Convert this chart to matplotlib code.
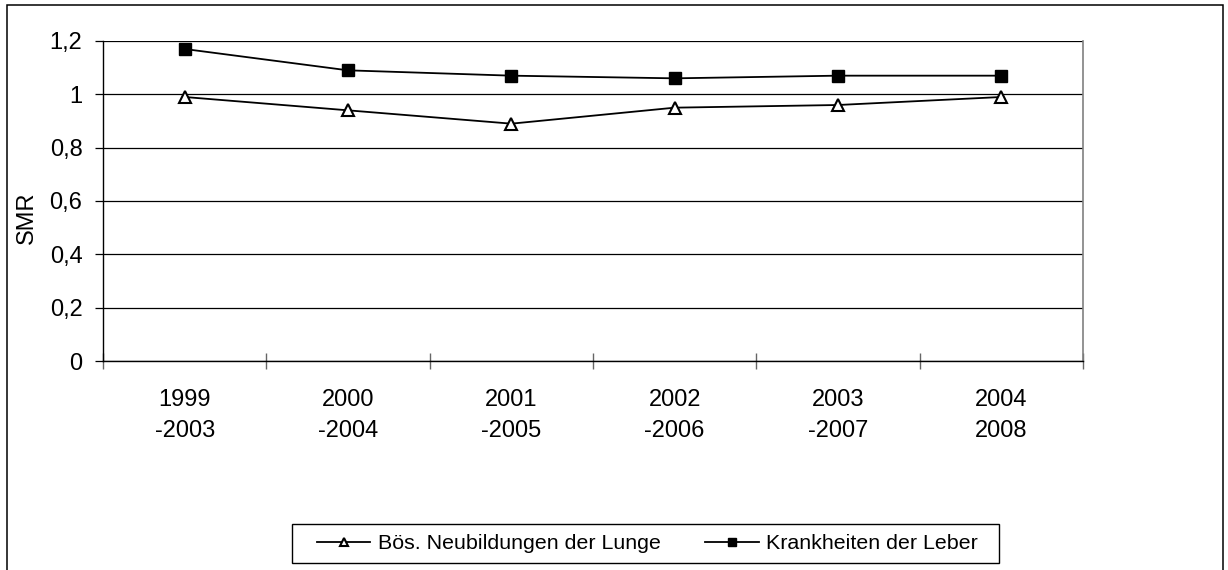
import matplotlib
matplotlib.use("Agg")
import matplotlib.pyplot as plt
from matplotlib.patches import Rectangle
import numpy as np

plt.rcParams['font.family'] = ['Liberation Sans', 'DejaVu Sans']

periods = ["1999\n-2003", "2000\n-2004", "2001\n-2005", "2002\n-2006", "2003\n-2007", "2004\n2008"]
lunge = [0.99, 0.94, 0.89, 0.95, 0.96, 0.99]
leber = [1.17, 1.09, 1.07, 1.06, 1.07, 1.07]
series_names = ["Bös. Neubildungen der Lunge", "Krankheiten der Leber"]
yticks = [0, 0.2, 0.4, 0.6, 0.8, 1.0, 1.2]
ytick_labels = ["0", "0,2", "0,4", "0,6", "0,8", "1", "1,2"]

W, H = 1228, 570
fig = plt.figure(figsize=(W / 100, H / 100), dpi=100)
fig.patch.set_facecolor('white')

# outer chart border (bottom edge lies outside the image)
fig.patches.append(Rectangle((7 / W, -0.05), (1223 - 7) / W, (H - 5) / H + 0.05,
                             transform=fig.transFigure, fill=False,
                             edgecolor='black', linewidth=1.1))

L, R, T, B = 103, 1083, 41, 361
ax = fig.add_axes([L / W, (H - B) / H, (R - L) / W, (B - T) / H])

x = np.arange(len(periods))
l1, = ax.plot(x, lunge, color='black', lw=1.3, marker='^', markersize=8,
              markerfacecolor='white', markeredgecolor='black', markeredgewidth=1.5,
              label=series_names[0])
l2, = ax.plot(x, leber, color='black', lw=1.3, marker='s', markersize=8,
              markerfacecolor='black', markeredgecolor='black',
              label=series_names[1])

ax.set_xlim(-0.5, len(periods) - 0.5)
ax.set_ylim(0, 1.2)
ax.set_yticks(yticks)
ax.set_yticklabels(ytick_labels, fontsize=17)
ax.yaxis.grid(True, color='black', lw=0.9)
ax.set_axisbelow(True)

ax.set_xticks(x)
ax.set_xticklabels(periods, fontsize=17, linespacing=1.55)
ax.set_xticks(np.arange(-0.5, len(periods), 1.0), minor=True)
ax.tick_params(axis='x', which='major', length=0, pad=20)
ax.tick_params(axis='x', which='minor', length=11, direction='inout', width=1.0, color='#666666')
ax.tick_params(axis='y', which='major', length=5.8, direction='out', width=0.9, pad=9)

ax.set_ylabel("SMR", fontsize=17)
ax.yaxis.set_label_coords((38 - L) / (R - L), (B - 218) / (B - T))

for side in ['left', 'bottom']:
    ax.spines[side].set_color('black')
    ax.spines[side].set_linewidth(1.0)
ax.spines['top'].set_visible(False)
ax.spines['right'].set_color('#808080')
ax.spines['right'].set_linewidth(1.2)

# legend box
fig.patches.append(Rectangle((292 / W, 1 - 563 / H), (999 - 292) / W, (563 - 524) / H,
                             transform=fig.transFigure, fill=False,
                             edgecolor='black', linewidth=1.0))
leg = fig.legend(handles=[l1, l2], loc='center left', ncol=2,
                 bbox_to_anchor=(317 / W, 1 - 543.5 / H), fontsize=15.4,
                 frameon=False, borderaxespad=0, borderpad=0,
                 handlelength=2.5, handletextpad=0.33, columnspacing=2.1,
                 markerscale=0.75)

fig.savefig("out.png", dpi=100)
